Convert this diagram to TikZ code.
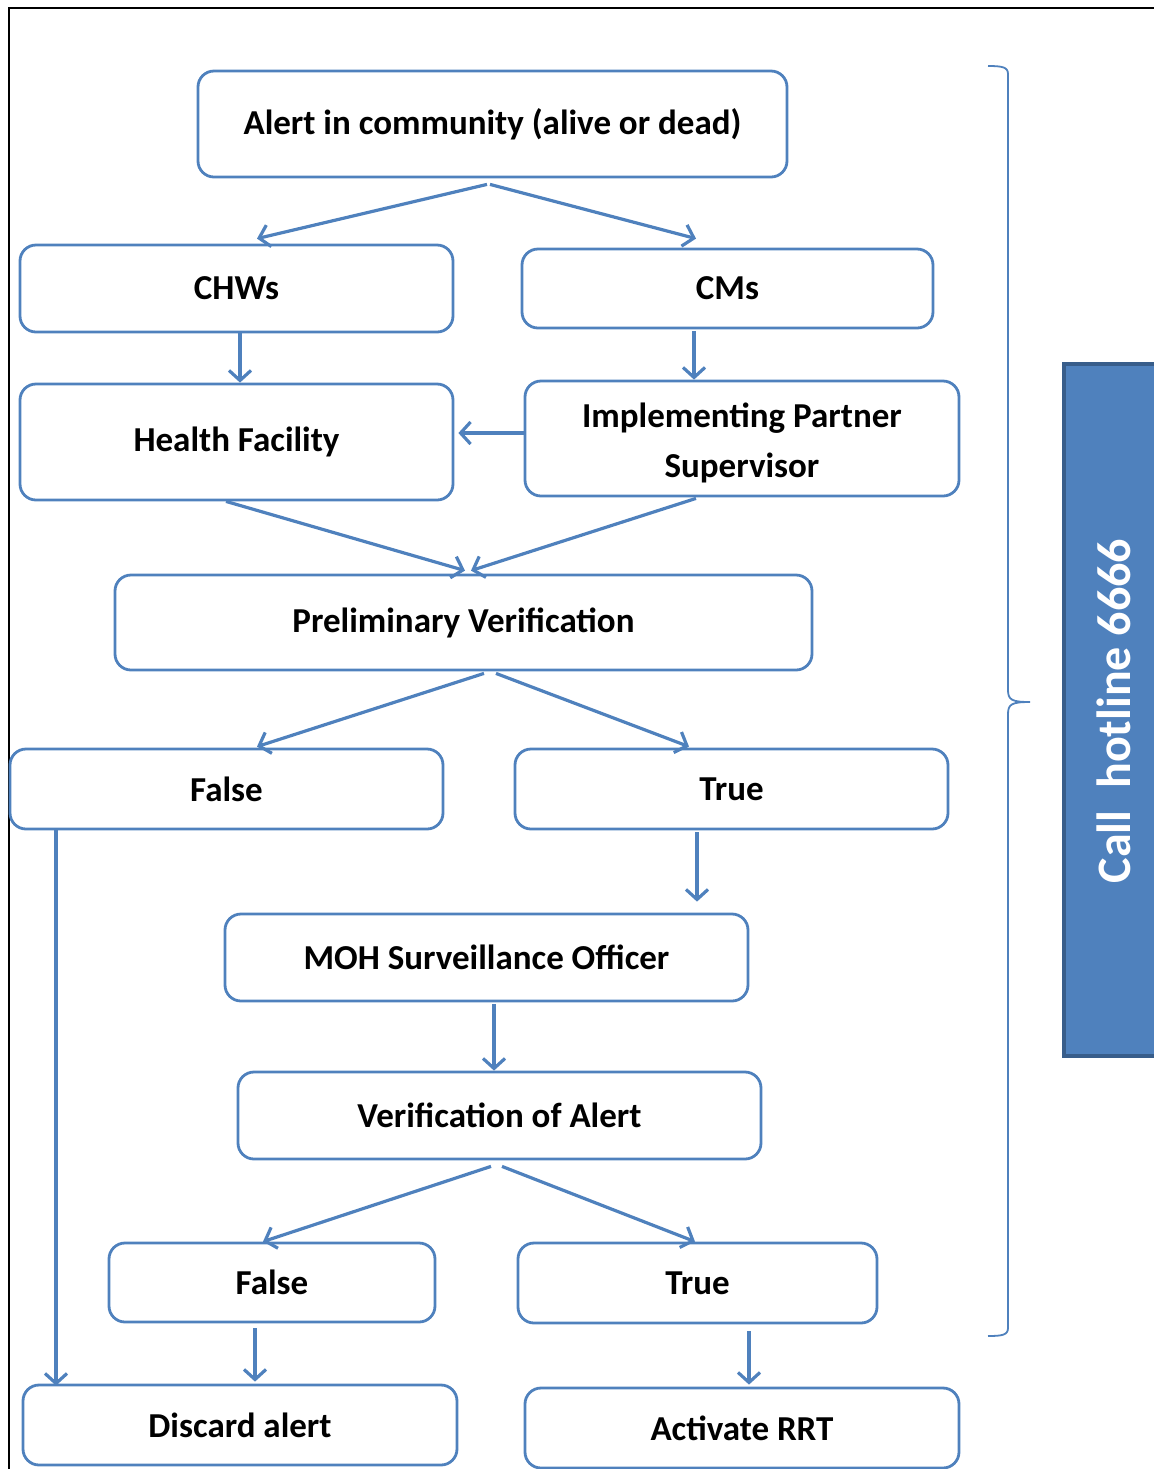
\documentclass[tikz,border=0pt]{standalone}
\usepackage{fontspec}
\setmainfont{Carlito}
\usetikzlibrary{arrows.meta}
\definecolor{flowblue}{HTML}{4F81BD}
\definecolor{flowdark}{HTML}{385D8A}
\tikzset{
  stepbox/.style={draw=flowblue,line width=1.4pt,rounded corners=8pt,inner sep=0pt,
    font=\fontsize{17.5}{25}\selectfont\bfseries},
  flow/.style={draw=flowblue,line width=1.6pt,-{Straight Barb[length=5pt,width=11pt,line width=1.6pt]}}
}
\begin{document}
\begin{tikzpicture}[x=0.5pt,y=-0.5pt]
\useasboundingbox (0,0) rectangle (1154,1469);
\draw[line width=0.9pt] (1154,8) -- (9,8) -- (9,1469);

\node[stepbox,minimum width=294.5pt,minimum height=53pt] (alert) at (492.5,124) {Alert in community (alive or dead)};
\node[stepbox,minimum width=216.5pt,minimum height=43.5pt] (chw) at (236.5,288.5) {CHWs};
\node[stepbox,minimum width=205.5pt,minimum height=39.5pt] (cm) at (727.5,288.5) {CMs};
\node[stepbox,minimum width=216.5pt,minimum height=58pt] (hf) at (236.5,442) {Health Facility};
\node[stepbox,minimum width=217pt,minimum height=57.5pt,align=center] (ip) at (742,438.5) {\rule{0pt}{17pt}Implementing Partner\\Supervisor};
\node[stepbox,minimum width=348.5pt,minimum height=47.5pt] (pv) at (463.5,622.5) {Preliminary Verification};
\node[stepbox,minimum width=216.5pt,minimum height=40pt] (pvfalse) at (226.5,789) {False};
\node[stepbox,minimum width=216.5pt,minimum height=40pt] (pvtrue) at (731.5,789) {True};
\node[stepbox,minimum width=261.5pt,minimum height=43.5pt] (moh) at (486.5,957.5) {MOH Surveillance Officer};
\node[stepbox,minimum width=261.5pt,minimum height=43.5pt] (voa) at (499.5,1115.5) {Verification of Alert};
\node[stepbox,minimum width=163pt,minimum height=39.5pt] (vfalse) at (272,1282.5) {False};
\node[stepbox,minimum width=179.5pt,minimum height=40pt] (vtrue) at (697.5,1283) {True};
\node[stepbox,minimum width=217pt,minimum height=40pt] (discard) at (240,1425) {Discard alert};
\node[stepbox,minimum width=217pt,minimum height=40pt] (rrt) at (742,1428) {Activate RRT};

\draw[flow] ([xshift=-2.75pt,yshift=-3pt]alert.south) -- ([xshift=10.25pt,yshift=2.5pt]chw.north);
\draw[flow] ([xshift=-1.25pt,yshift=-3pt]alert.south) -- ([xshift=-15.75pt,yshift=4.5pt]cm.north);
\draw[flow] ([xshift=1.75pt]chw.south) -- ([xshift=1.75pt]hf.north);
\draw[flow] ([xshift=-16.75pt,yshift=-1pt]cm.south) -- ([xshift=-24pt]ip.north);
\draw[flow] ([yshift=2.75pt]ip.west) -- ([xshift=2pt,yshift=4.5pt]hf.east);
\draw[flow] ([xshift=-5.25pt]hf.south) -- ([xshift=0.75pt,yshift=1.5pt]pv.north);
\draw[flow] ([xshift=-23pt,yshift=-0.5pt]ip.south) -- ([xshift=3.75pt,yshift=1.5pt]pv.north);
\draw[flow] ([xshift=10.25pt,yshift=-1pt]pv.south) -- ([xshift=15.25pt,yshift=0.5pt]pvfalse.north);
\draw[flow] ([xshift=16.25pt,yshift=-1pt]pv.south) -- ([xshift=-21.25pt,yshift=0.5pt]pvtrue.north);
\draw[flow] ([xshift=-85.25pt]pvfalse.south) -- ([xshift=-92pt,yshift=-1pt]discard.north);
\draw[flow] ([xshift=-17.25pt,yshift=-1pt]pvtrue.south) -- ([xshift=105.25pt,yshift=5.5pt]moh.north);
\draw[flow] ([xshift=3.75pt,yshift=-1pt]moh.south) -- ([xshift=-2.75pt]voa.north);
\draw[flow] ([xshift=-4.25pt,yshift=-3pt]voa.south) -- ([xshift=-4.5pt]vfalse.north);
\draw[flow] ([xshift=1.25pt,yshift=-3pt]voa.south) -- ([xshift=-1.25pt]vtrue.north);
\draw[flow] ([xshift=-8.5pt,yshift=-2.5pt]vfalse.south) -- ([xshift=7.5pt,yshift=1pt]discard.north);
\draw[flow] ([xshift=25.75pt,yshift=-3.5pt]vtrue.south) -- ([xshift=3.5pt,yshift=1pt]rrt.north);

\draw[flowblue,line width=0.9pt] (988,66) .. controls (1002,66) and (1008,67) .. (1008,74)
  -- (1008,690) .. controls (1008,700) and (1012,702) .. (1030,702)
  .. controls (1012,702) and (1008,704) .. (1008,714)
  -- (1008,1328) .. controls (1008,1335) and (1002,1336) .. (988,1336);

\fill[flowblue] (1063,364) rectangle (1154,1056);
\draw[flowdark,line width=2pt] (1154,364) -- (1064,364) -- (1064,1056) -- (1154,1056);
\node[rotate=90,text=white,font=\fontsize{24}{28}\selectfont\bfseries] (hotline) at (1114,711) {Call\ \ hotline 6666};
\end{tikzpicture}
\end{document}
